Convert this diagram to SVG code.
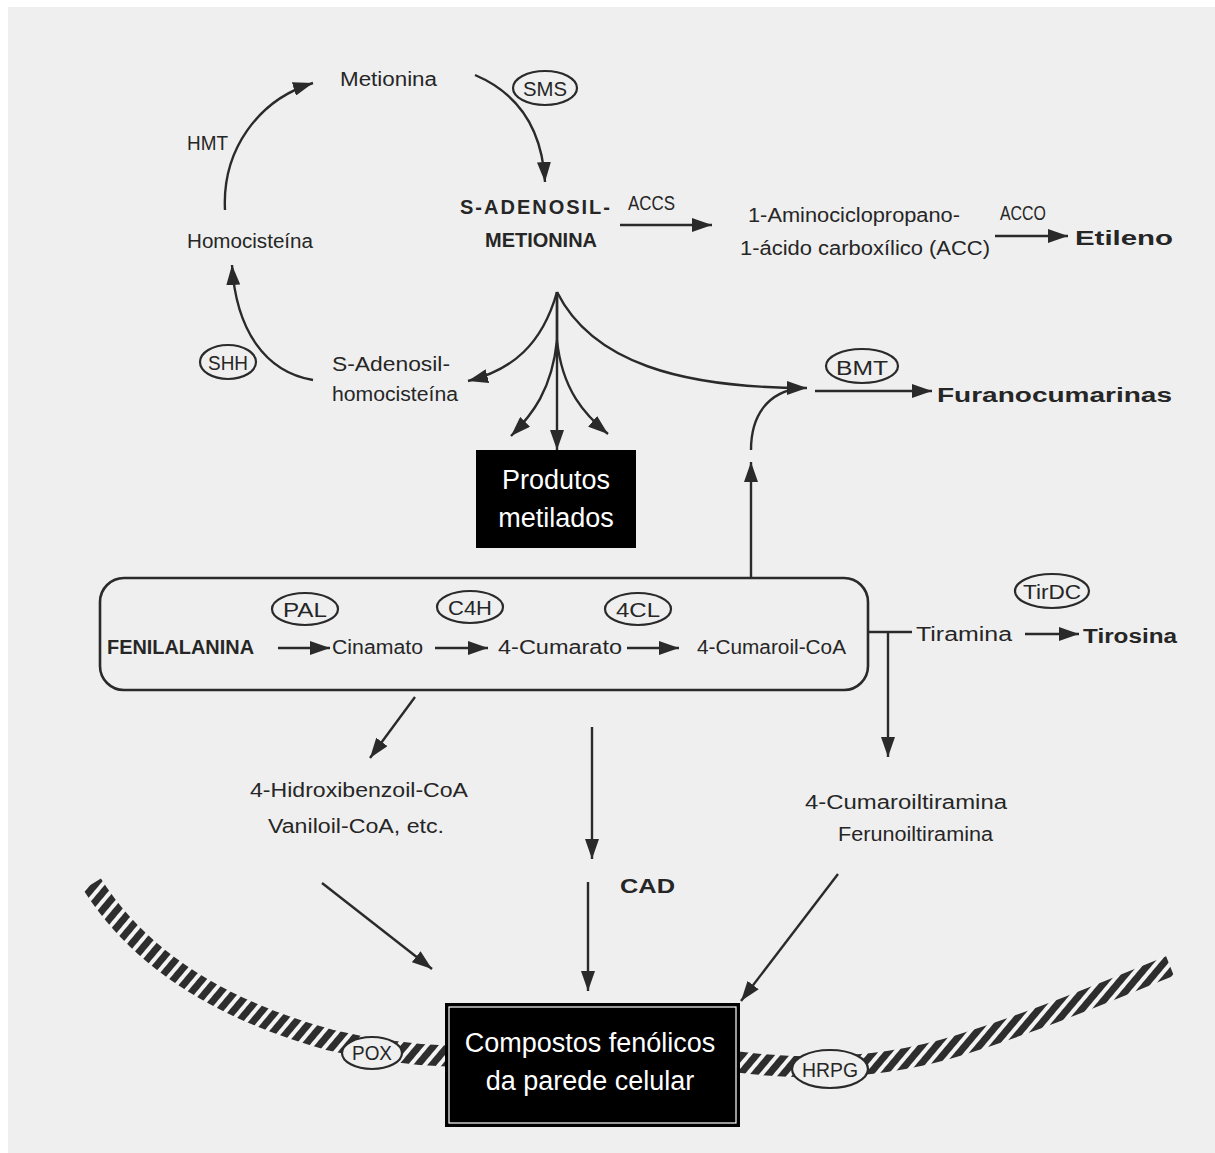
<svg xmlns="http://www.w3.org/2000/svg" width="1215" height="1153" viewBox="0 0 1215 1153">
<style>
.t{font-family:"Liberation Sans",Arial,sans-serif;fill:#262626;font-size:20px}
.b{font-weight:bold}
.w{fill:#ffffff;font-size:27px}
.c{text-anchor:middle}
.ln{fill:none;stroke:#2a2a2a;stroke-width:2.4}
.el{fill:#efefef;stroke:#2a2a2a;stroke-width:2.2}
</style>
<defs>
<marker id="ah" viewBox="0 0 20 14" refX="20" refY="7" markerWidth="20" markerHeight="14" markerUnits="userSpaceOnUse" orient="auto">
<path d="M0,0 L20,7 L0,14 z" fill="#2a2a2a"/>
</marker>
<pattern id="hatch" width="11" height="11" patternUnits="userSpaceOnUse" patternTransform="rotate(40)">
<rect width="11" height="11" fill="#f4f4f4"/>
<rect width="7" height="11" fill="#2e2e2e"/>
</pattern>
</defs>
<rect width="1215" height="1153" fill="#ffffff"/>
<rect x="8" y="7" width="1207" height="1146" fill="#efefef"/>

<g id="band">
<path d="M92,884 C140,960 220,1010 330,1040 C380,1052 420,1055 447,1056" fill="none" stroke="url(#hatch)" stroke-width="21"/>
<path d="M738,1062 C800,1070 880,1070 960,1045 C1040,1020 1110,990 1170,966" fill="none" stroke="url(#hatch)" stroke-width="21"/>
</g>

<g id="connectors">
<path class="ln" d="M225,210 C222,150 258,100 313,83" marker-end="url(#ah)"/>
<path class="ln" d="M475,75 C515,92 542,125 545,182" marker-end="url(#ah)"/>
<path class="ln" d="M313,380 C265,372 236,330 232,265" marker-end="url(#ah)"/>
<path class="ln" d="M557,292 C542,345 512,370 468,381" marker-end="url(#ah)"/>
<path class="ln" d="M557,292 L557,340 C552,390 532,415 511,436" marker-end="url(#ah)"/>
<path class="ln" d="M557,292 L557,450" marker-end="url(#ah)"/>
<path class="ln" d="M557,340 C562,390 585,415 608,434" marker-end="url(#ah)"/>
<path class="ln" d="M557,292 C592,362 680,388 807,388" marker-end="url(#ah)"/>
<path class="ln" d="M751,578 L751,462" marker-end="url(#ah)"/>
<path class="ln" d="M751,450 C751,415 768,392 800,388"/>
<path class="ln" d="M620,225 L712,225" marker-end="url(#ah)"/>
<path class="ln" d="M995,236 L1068,236" marker-end="url(#ah)"/>
<path class="ln" d="M815,391 L932,391" marker-end="url(#ah)"/>
<path class="ln" d="M278,648 L330,648" marker-end="url(#ah)"/>
<path class="ln" d="M435,648 L488,648" marker-end="url(#ah)"/>
<path class="ln" d="M627,648 L679,648" marker-end="url(#ah)"/>
<path class="ln" d="M868,632 L912,632"/>
<path class="ln" d="M888,632 L888,757" marker-end="url(#ah)"/>
<path class="ln" d="M1025,634 L1079,634" marker-end="url(#ah)"/>
<path class="ln" d="M415,697 L370,758" marker-end="url(#ah)"/>
<path class="ln" d="M592,727 L592,859" marker-end="url(#ah)"/>
<path class="ln" d="M322,883 L432,969" marker-end="url(#ah)"/>
<path class="ln" d="M588,882 L588,991" marker-end="url(#ah)"/>
<path class="ln" d="M838,874 L741,1001" marker-end="url(#ah)"/>
</g>

<g id="metionina"><text class="t" x="340" y="86" font-size="21" textLength="97" lengthAdjust="spacingAndGlyphs">Metionina</text></g>
<g id="sms"><ellipse class="el" cx="545" cy="88" rx="32" ry="17"/><text class="t c" x="545" y="96" font-size="22" textLength="44" lengthAdjust="spacingAndGlyphs">SMS</text></g>
<g id="hmt"><text class="t" x="187" y="150" font-size="19" textLength="41" lengthAdjust="spacingAndGlyphs">HMT</text></g>
<g id="homocisteina"><text class="t" x="187" y="248" textLength="126" lengthAdjust="spacingAndGlyphs">Homocisteína</text></g>
<g id="shh"><ellipse class="el" cx="228" cy="362" rx="28" ry="17"/><text class="t c" x="228" y="370" font-size="20" textLength="40" lengthAdjust="spacingAndGlyphs">SHH</text></g>
<g id="sah"><text class="t" x="332" y="371" textLength="118" lengthAdjust="spacingAndGlyphs">S-Adenosil-</text><text class="t" x="332" y="401" textLength="126" lengthAdjust="spacingAndGlyphs">homocisteína</text></g>
<g id="sam"><text class="t b" x="460" y="214" font-size="20" textLength="150" lengthAdjust="spacing">S-ADENOSIL-</text><text class="t b" x="485" y="247" font-size="20" textLength="112" lengthAdjust="spacingAndGlyphs">METIONINA</text></g>
<g id="accs"><text class="t" x="628" y="210" font-size="17" textLength="47" lengthAdjust="spacingAndGlyphs">ACCS</text></g>
<g id="acc"><text class="t" x="748" y="222" textLength="212" lengthAdjust="spacingAndGlyphs">1-Aminociclopropano-</text><text class="t" x="740" y="255" textLength="250" lengthAdjust="spacingAndGlyphs">1-ácido  carboxílico  (ACC)</text></g>
<g id="acco"><text class="t" x="1000" y="220" font-size="16" textLength="46" lengthAdjust="spacingAndGlyphs">ACCO</text></g>
<g id="etileno"><text class="t b" x="1075" y="245" font-size="26" textLength="98" lengthAdjust="spacingAndGlyphs">Etileno</text></g>
<g id="bmt"><ellipse class="el" cx="862" cy="366" rx="36" ry="17"/><text class="t c" x="862" y="375" font-size="23" textLength="52" lengthAdjust="spacingAndGlyphs">BMT</text></g>
<g id="furano"><text class="t b" x="937" y="402" font-size="26" textLength="235" lengthAdjust="spacingAndGlyphs">Furanocumarinas</text></g>
<g id="produtos"><rect x="476" y="450" width="160" height="98" fill="#000"/><text class="t w c" x="556" y="489">Produtos</text><text class="t w c" x="556" y="527">metilados</text></g>

<g id="fenilpropanoides"><rect x="100" y="578" width="768" height="112" rx="24" fill="none" stroke="#2a2a2a" stroke-width="2.6"/></g>
<g id="pal"><ellipse class="el" cx="305" cy="609" rx="33" ry="16"/><text class="t c" x="305" y="617" font-size="20" textLength="44" lengthAdjust="spacingAndGlyphs">PAL</text></g>
<g id="c4h"><ellipse class="el" cx="470" cy="607" rx="33" ry="16"/><text class="t c" x="470" y="615" font-size="20" textLength="44" lengthAdjust="spacingAndGlyphs">C4H</text></g>
<g id="4cl"><ellipse class="el" cx="638" cy="609" rx="33" ry="16"/><text class="t c" x="638" y="617" font-size="20" textLength="44" lengthAdjust="spacingAndGlyphs">4CL</text></g>
<g id="fenilalanina"><text class="t b" x="107" y="654" font-size="19" textLength="147" lengthAdjust="spacingAndGlyphs">FENILALANINA</text></g>
<g id="cinamato"><text class="t" x="332" y="654" textLength="91" lengthAdjust="spacingAndGlyphs">Cinamato</text></g>
<g id="cumarato"><text class="t" x="498" y="654" textLength="124" lengthAdjust="spacingAndGlyphs">4-Cumarato</text></g>
<g id="cumaroilcoa"><text class="t" x="697" y="654" textLength="149" lengthAdjust="spacingAndGlyphs">4-Cumaroil-CoA</text></g>
<g id="tirdc"><ellipse class="el" cx="1052" cy="591" rx="37" ry="17"/><text class="t c" x="1052" y="599" font-size="20" textLength="58" lengthAdjust="spacingAndGlyphs">TirDC</text></g>
<g id="tiramina"><text class="t" x="916" y="641" font-size="21" textLength="96" lengthAdjust="spacingAndGlyphs">Tiramina</text></g>
<g id="tirosina"><text class="t b" x="1083" y="643" font-size="22" textLength="94" lengthAdjust="spacingAndGlyphs">Tirosina</text></g>
<g id="hidroxibenzoil"><text class="t" x="250" y="797" textLength="218" lengthAdjust="spacingAndGlyphs">4-Hidroxibenzoil-CoA</text><text class="t" x="268" y="833" textLength="176" lengthAdjust="spacingAndGlyphs">Vaniloil-CoA, etc.</text></g>
<g id="cumaroiltiramina"><text class="t" x="805" y="809" textLength="202" lengthAdjust="spacingAndGlyphs">4-Cumaroiltiramina</text><text class="t" x="838" y="841" textLength="155" lengthAdjust="spacingAndGlyphs">Ferunoiltiramina</text></g>
<g id="cad"><text class="t b" x="620" y="893" font-size="24" textLength="55" lengthAdjust="spacingAndGlyphs">CAD</text></g>
<g id="pox"><ellipse class="el" cx="372" cy="1053" rx="30" ry="16"/><text class="t c" x="372" y="1060" font-size="19" textLength="40" lengthAdjust="spacingAndGlyphs">POX</text></g>
<g id="hrpg"><ellipse class="el" cx="830" cy="1069" rx="38" ry="19"/><text class="t c" x="830" y="1077" font-size="21" textLength="56" lengthAdjust="spacingAndGlyphs">HRPG</text></g>
<g id="compostos"><rect x="445" y="1003" width="295" height="124" fill="#000"/><rect x="449" y="1007" width="287" height="116" fill="none" stroke="#fff" stroke-width="1.2"/><text class="t w c" x="590" y="1052" font-size="28">Compostos fenólicos</text><text class="t w c" x="590" y="1090" font-size="28">da parede celular</text></g>
</svg>
